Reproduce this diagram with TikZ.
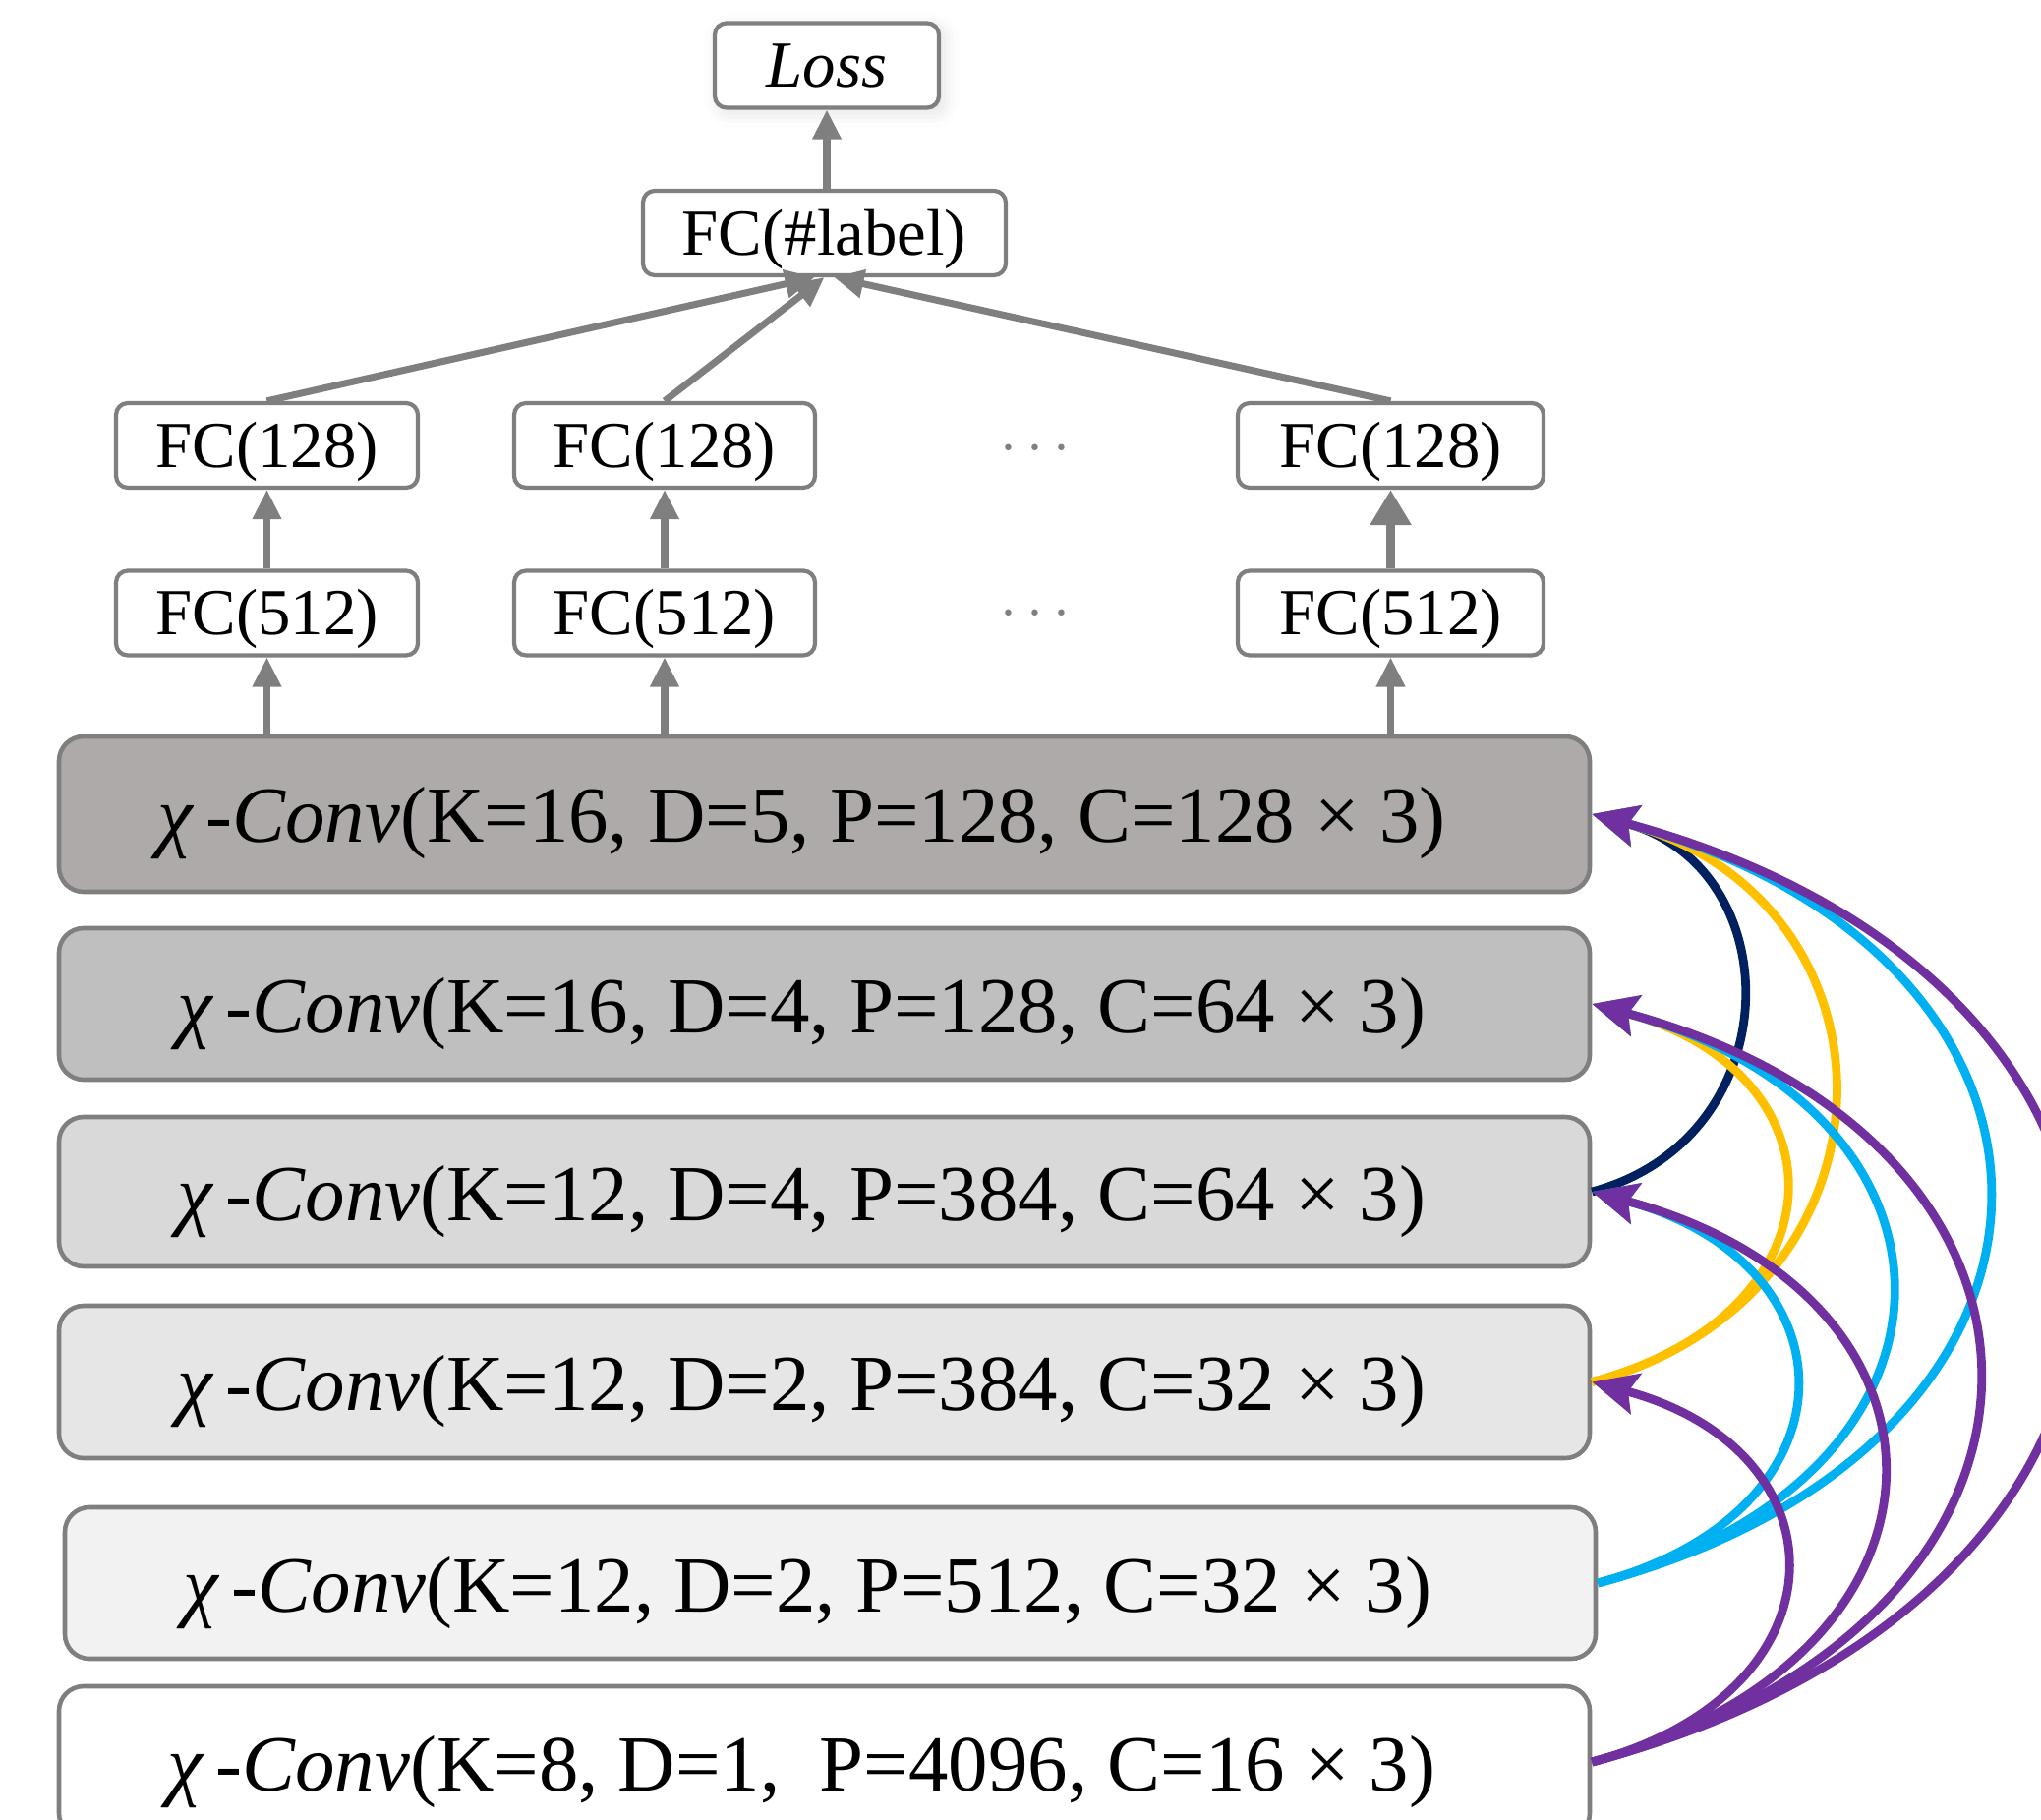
\documentclass[tikz,border=0pt]{standalone}
\usepackage{fontspec}
\setmainfont{Liberation Serif}
\usepackage{xcolor}
\usepackage{tikz}
\usetikzlibrary{
    positioning,
    arrows.meta,
    shadows.blur
}
\definecolor{boxGray}{RGB}{127, 127, 127}
\definecolor{convFillA}{HTML}{AEAAAA}
\definecolor{convFillB}{HTML}{BFBFBF}
\definecolor{convFillC}{HTML}{D9D9D9}
\definecolor{convFillD}{HTML}{E7E6E6}
\definecolor{convFillE}{HTML}{F2F2F2}
\definecolor{linkNavy}{HTML}{002060}
\definecolor{linkGold}{HTML}{FFC000}
\definecolor{linkCyan}{HTML}{00B0F0}
\definecolor{linkPurple}{HTML}{7030A0}

\newcommand{\xconv}[1]{\textit{χ\,-Conv}(#1)\hspace*{0.46cm}}

\begin{document}
\begin{tikzpicture}[
    >={Triangle[length=3mm, width=2.8mm]},
    fcbox/.style={draw=boxGray, line width=1.2pt, rounded corners=1.2mm, fill=white,
        minimum height=0.86cm, inner sep=0pt, text height=17pt, text depth=4.2pt,
        font=\fontsize{19}{22}\selectfont},
    convbox/.style={draw=boxGray, line width=1.3pt, rounded corners=2.5mm,
        minimum width=15.57cm, minimum height=1.54cm, inner sep=0pt,
        text height=21.5pt, text depth=5pt, font=\fontsize{23}{27}\selectfont},
    flow/.style={->, draw=boxGray, line width=2pt},
    skip/.style={-{Stealth[length=4.6mm, width=4.2mm, inset=0.8mm]}, line width=2.5pt}
]
    \path[use as bounding box, clip] (0,0) rectangle (20.76,-18.51);

    % head
    \node[fcbox, minimum width=2.28cm, font=\fontsize{19}{22}\selectfont\itshape,
        blur shadow={shadow xshift=0.5mm, shadow yshift=-0.5mm, shadow opacity=12, shadow blur radius=1.5mm}]
        (loss) at (8.41,-0.665) {Loss};
    \node[fcbox, minimum width=3.69cm] (lbl) at (8.385,-2.37) {FC(\#label)};

    % per-branch fully connected layers
    \node[fcbox, minimum width=3.07cm] (fcHiA) at (2.715,-4.53) {FC(128)};
    \node[fcbox, minimum width=3.06cm] (fcHiB) at (6.76,-4.53) {FC(128)};
    \node[fcbox, minimum width=3.11cm] (fcHiC) at (14.145,-4.53) {FC(128)};
    \node[fcbox, minimum width=3.07cm] (fcLoA) at (2.715,-6.235) {FC(512)};
    \node[fcbox, minimum width=3.06cm] (fcLoB) at (6.76,-6.235) {FC(512)};
    \node[fcbox, minimum width=3.11cm] (fcLoC) at (14.145,-6.235) {FC(512)};
    \node[text=boxGray, font=\fontsize{19}{22}\selectfont] (dotsHi) at (10.53,-4.57) {$\cdots$};
    \node[text=boxGray, font=\fontsize{19}{22}\selectfont] (dotsLo) at (10.53,-6.25) {$\cdots$};

    % X-Conv stack
    \node[convbox, fill=convFillA, minimum height=1.58cm] (conv1) at (8.385,-8.28)
        {\xconv{K=16, D=5, P=128, C=128 × 3}};
    \node[convbox, fill=convFillB] (conv2) at (8.385,-10.21)
        {\xconv{K=16, D=4, P=128, C=64 × 3}};
    \node[convbox, fill=convFillC, minimum height=1.52cm] (conv3) at (8.385,-12.12)
        {\xconv{K=12, D=4, P=384, C=64 × 3}};
    \node[convbox, fill=convFillD, minimum height=1.55cm] (conv4) at (8.385,-14.055)
        {\xconv{K=12, D=2, P=384, C=32 × 3}};
    \node[convbox, fill=convFillE] (conv5) at (8.445,-16.10)
        {\xconv{K=12, D=2, P=512, C=32 × 3}};
    \node[convbox, fill=white] (conv6) at (8.385,-17.92)
        {\xconv{K=8, D=1,\ \ P=4096, C=16 × 3}};

    % upward flow
    \draw[flow] (loss.south |- lbl.north) -- (loss.south);
    \draw[flow] (fcHiA.north) -- ([xshift=-0.1cm]lbl.south);
    \draw[flow] (fcHiB.north) -- (lbl.south);
    \draw[flow] (fcHiC.north) -- ([xshift=0.1cm]lbl.south);
    \draw[flow] (fcLoA.north) -- (fcHiA.south);
    \draw[flow] (fcLoB.north) -- (fcHiB.south);
    \draw[flow, line width=2.8pt, >={Triangle[length=3.6mm, width=4mm]}] (fcLoC.north) -- (fcHiC.south);
    \draw[flow] (fcLoA |- conv1.north) -- (fcLoA.south);
    \draw[flow] (fcLoB |- conv1.north) -- (fcLoB.south);
    \draw[flow] (fcLoC |- conv1.north) -- (fcLoC.south);

    % dense skip links
    \draw[skip, linkNavy] (conv3.east) to[out=15, in=-15, looseness=1.4] (conv1.east);
    \draw[skip, linkGold] (conv4.east) to[out=15, in=-15, looseness=1.8] (conv2.east);
    \draw[skip, linkGold] (conv4.east) to[out=15, in=-15, looseness=1.5] (conv1.east);
    \foreach \dst in {conv3, conv2, conv1}
        \draw[skip, linkCyan] (conv5.east) to[out=15, in=-15, looseness=1.8] (\dst.east);
    \foreach \dst in {conv4, conv3, conv2, conv1}
        \draw[skip, linkPurple] (conv6.east) to[out=15, in=-15, looseness=1.8] (\dst.east);
\end{tikzpicture}
\end{document}
